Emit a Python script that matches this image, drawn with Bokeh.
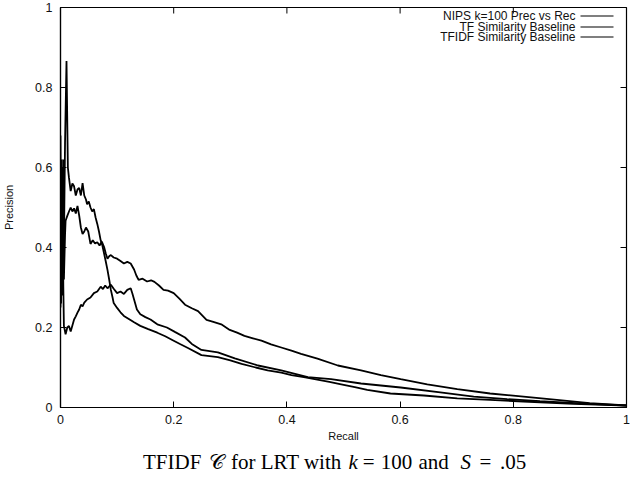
from bokeh.plotting import figure
from bokeh.models import FixedTicker, Label, Arrow, Range1d
from bokeh.layouts import column
from bokeh.core.properties import value
from bokeh.embed import file_html
from bokeh.resources import INLINE

# ---------------- data ----------------
tf_recall = [0.0, 0.001, 0.002, 0.003, 0.004, 0.005, 0.006, 0.008, 0.0106, 0.013, 0.015, 0.018,
             0.021, 0.024, 0.027, 0.030, 0.033, 0.036, 0.039, 0.042, 0.045, 0.047, 0.050, 0.053,
             0.056, 0.059, 0.062, 0.065, 0.068, 0.071, 0.074, 0.077, 0.080, 0.083, 0.086, 0.089,
             0.092, 0.094, 0.097, 0.100, 0.106, 0.112, 0.120, 0.130, 0.141, 0.155, 0.171, 0.185,
             0.200, 0.212, 0.226, 0.249, 0.278, 0.300, 0.320, 0.345, 0.366, 0.390, 0.408, 0.430,
             0.449, 0.475, 0.496, 0.520, 0.542, 0.583, 0.642, 0.701, 0.759, 0.818, 0.906, 1.0]
tf_precision = [0.25, 0.45, 0.30, 0.60, 0.35, 0.62, 0.40, 0.66, 0.866, 0.60, 0.574, 0.541,
                0.560, 0.553, 0.530, 0.545, 0.549, 0.530, 0.561, 0.530, 0.520, 0.508, 0.515, 0.500,
                0.490, 0.496, 0.475, 0.459, 0.440, 0.418, 0.405, 0.385, 0.365, 0.344, 0.320, 0.294,
                0.275, 0.261, 0.255, 0.249, 0.238, 0.229, 0.222, 0.213, 0.204, 0.196, 0.187, 0.178,
                0.167, 0.158, 0.148, 0.131, 0.126, 0.118, 0.109, 0.100, 0.093, 0.087, 0.081, 0.076,
                0.071, 0.064, 0.058, 0.051, 0.044, 0.035, 0.030, 0.023, 0.019, 0.015, 0.009, 0.005]

tfidf_recall = [0.0, 0.001, 0.002, 0.003, 0.004, 0.006, 0.008, 0.009, 0.012, 0.015, 0.018, 0.021,
                0.024, 0.027, 0.030, 0.033, 0.036, 0.039, 0.042, 0.045, 0.049, 0.053, 0.057, 0.061,
                0.065, 0.069, 0.073, 0.077, 0.080, 0.083, 0.086, 0.089, 0.094, 0.100, 0.106, 0.112,
                0.118, 0.124, 0.130, 0.134, 0.138, 0.145, 0.153, 0.160, 0.166, 0.174, 0.182, 0.190,
                0.200, 0.210, 0.220, 0.232, 0.243, 0.258, 0.270, 0.284, 0.299, 0.312, 0.325, 0.340,
                0.355, 0.372, 0.390, 0.408, 0.425, 0.454, 0.490, 0.531, 0.566, 0.601, 0.648, 0.701,
                0.759, 0.818, 0.877, 0.935, 1.0]
tfidf_precision = [0.68, 0.40, 0.55, 0.30, 0.50, 0.32, 0.43, 0.467, 0.479, 0.490, 0.500, 0.490,
                   0.498, 0.485, 0.504, 0.480, 0.450, 0.434, 0.440, 0.450, 0.440, 0.409, 0.418, 0.410,
                   0.413, 0.405, 0.415, 0.401, 0.385, 0.372, 0.378, 0.381, 0.375, 0.372, 0.366, 0.360,
                   0.364, 0.360, 0.345, 0.330, 0.319, 0.322, 0.315, 0.318, 0.314, 0.305, 0.294, 0.292,
                   0.286, 0.272, 0.257, 0.248, 0.241, 0.219, 0.214, 0.208, 0.194, 0.187, 0.179, 0.173,
                   0.167, 0.158, 0.150, 0.142, 0.134, 0.122, 0.105, 0.093, 0.081, 0.071, 0.058, 0.046,
                   0.035, 0.027, 0.019, 0.011, 0.005]

nips_recall = [0.0, 0.001, 0.002, 0.003, 0.004, 0.005, 0.006, 0.009, 0.012, 0.015, 0.018, 0.021,
               0.024, 0.027, 0.030, 0.033, 0.036, 0.039, 0.042, 0.047, 0.053, 0.059, 0.065, 0.071,
               0.075, 0.079, 0.083, 0.089, 0.094, 0.100, 0.106, 0.112, 0.118, 0.124, 0.127, 0.130,
               0.135, 0.141, 0.150, 0.159, 0.171, 0.188, 0.202, 0.220, 0.232, 0.249, 0.278, 0.308,
               0.349, 0.390, 0.437, 0.478, 0.531, 0.601, 0.671, 0.730, 0.789, 0.847, 0.935, 1.0]
nips_precision = [0.50, 0.26, 0.62, 0.28, 0.45, 0.30, 0.204, 0.183, 0.200, 0.204, 0.190, 0.205,
                  0.220, 0.228, 0.237, 0.245, 0.257, 0.253, 0.262, 0.270, 0.275, 0.286, 0.290, 0.302,
                  0.296, 0.305, 0.298, 0.307, 0.297, 0.286, 0.290, 0.284, 0.294, 0.298, 0.285, 0.270,
                  0.245, 0.233, 0.226, 0.220, 0.208, 0.200, 0.189, 0.175, 0.159, 0.144, 0.138, 0.123,
                  0.105, 0.093, 0.076, 0.071, 0.060, 0.050, 0.038, 0.027, 0.021, 0.016, 0.009, 0.005]

series_names = ["NIPS k=100 Prec vs Rec", "TF Similarity Baseline", "TFIDF Similarity Baseline"]
tick_values = [0, 0.2, 0.4, 0.6, 0.8, 1.0]
tick_labels = {0: "0", 0.2: "0.2", 0.4: "0.4", 0.6: "0.6", 0.8: "0.8", 1.0: "1"}

# caption pieces: (text, italic?)
caption_pieces = [("TFIDF", False), ("\U0001D49E", False), ("for LRT with", False), ("k", True),
                  ("=", False), ("100", False), ("and", False), ("S", True), ("=", False), (".05", False)]

SANS = "Liberation Sans"
SERIF = "Liberation Serif"

W = 631
FRAME_L, FRAME_R, FRAME_T = 57, 5, 7
MAIN_H = 448
FRAME_B = 41
frame_w = W - FRAME_L - FRAME_R
frame_h = MAIN_H - FRAME_T - FRAME_B

p = figure(width=W, height=MAIN_H, output_backend="svg", toolbar_location=None, title=None,
           x_range=Range1d(0, 1), y_range=Range1d(0, 1),
           min_border_left=FRAME_L, min_border_right=FRAME_R,
           min_border_top=FRAME_T, min_border_bottom=FRAME_B)
p.xgrid.visible = False
p.ygrid.visible = False
p.outline_line_color = "black"
p.outline_line_width = 1.2
p.background_fill_color = "white"
p.border_fill_color = "white"

for ax in (p.xaxis[0], p.yaxis[0]):
    ax.ticker = FixedTicker(ticks=tick_values)
    ax.major_label_overrides = tick_labels
    ax.minor_tick_line_color = None
    ax.major_tick_in = 6
    ax.major_tick_out = 0
    ax.axis_line_color = "black"
    ax.axis_line_width = 1.2
    ax.major_tick_line_color = "black"
    ax.major_tick_line_width = 1
    ax.major_label_text_font = SANS
    ax.major_label_text_font_size = "12.5px"
    ax.major_label_text_color = "#111111"
    ax.axis_label_text_font = SANS
    ax.axis_label_text_font_size = "11px"
    ax.axis_label_text_font_style = "normal"
    ax.axis_label_text_color = "#111111"

p.xaxis[0].axis_label = "Recall"
p.yaxis[0].axis_label = "Precision"
p.xaxis[0].major_label_standoff = 7
p.xaxis[0].axis_label_standoff = 3
p.yaxis[0].major_label_standoff = 8
p.yaxis[0].axis_label_standoff = 17

# mirrored inward ticks on the top and right borders (gnuplot style)
tick_len_y = 6 / frame_h
tick_len_x = 6 / frame_w
n = len(tick_values)
p.segment(x0=tick_values, y0=[1] * n, x1=tick_values, y1=[1 - tick_len_y] * n,
          line_color="black", line_width=1)
p.segment(x0=[1] * n, y0=tick_values, x1=[1 - tick_len_x] * n, y1=tick_values,
          line_color="black", line_width=1)

for rx, ry in [(nips_recall, nips_precision), (tf_recall, tf_precision), (tfidf_recall, tfidf_precision)]:
    p.line(rx, ry, line_color="black", line_width=1.8)

# gnuplot-style key: right-aligned text with a line sample to its right
key_rows = [frame_h - 8.5, frame_h - 19.5, frame_h - 29.5]
for name, ky in zip(series_names, key_rows):
    p.add_layout(Label(x=frame_w - 54, y=ky, x_units="screen", y_units="screen", text=name,
                       text_font=SANS, text_font_size="12px", text_align="right",
                       text_baseline="middle", text_color="#111111"))
    p.add_layout(Arrow(x_start=frame_w - 49, y_start=ky, x_end=frame_w - 16, y_end=ky,
                       start_units="screen", end_units="screen", start=None, end=None,
                       line_color="black", line_width=1.2))

# caption strip below the chart
CAP_H = 27
cap = figure(width=W, height=CAP_H, output_backend="svg", toolbar_location=None, title=None,
             x_range=Range1d(0, W), y_range=Range1d(0, CAP_H),
             x_axis_location=None, y_axis_location=None,
             min_border=0, min_border_left=0, min_border_right=0,
             min_border_top=0, min_border_bottom=0)
cap.xgrid.visible = False
cap.ygrid.visible = False
cap.outline_line_color = None
cap_x = [92, 166, 190, 321, 337, 357, 399, 446, 467, 490]
roman = [(t, x) for (t, it), x in zip(caption_pieces, cap_x) if not it]
italic = [(t, x) for (t, it), x in zip(caption_pieces, cap_x) if it]
cap_y = CAP_H / 2
cap.text(x=[x for _, x in roman], y=[cap_y] * len(roman), text=[t for t, _ in roman],
         text_font=value(SERIF), text_font_size="21px", text_align="left",
         text_baseline="middle", text_color="black")
cap.text(x=[x for _, x in italic], y=[cap_y] * len(italic), text=[t for t, _ in italic],
         text_font=value(SERIF), text_font_size="21px", text_font_style="italic",
         text_align="left", text_baseline="middle", text_color="black")

layout = column(p, cap, spacing=0)
open("out.html", "w").write(file_html(layout, INLINE))
